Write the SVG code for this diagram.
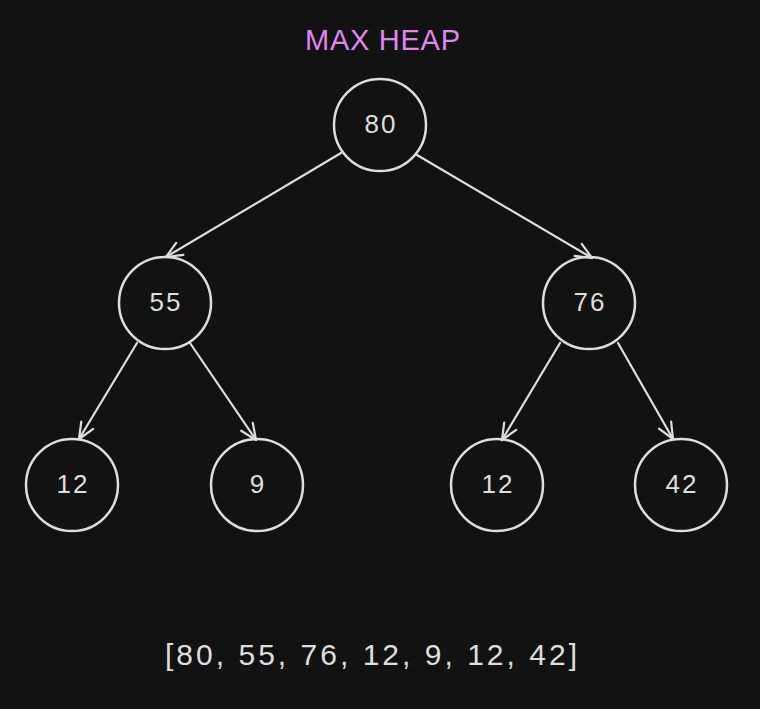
<svg xmlns="http://www.w3.org/2000/svg" width="760" height="709" viewBox="0 0 760 709">
<defs>
<marker id="ah" viewBox="0 0 20 20" refX="18" refY="10" markerWidth="20" markerHeight="20" markerUnits="userSpaceOnUse" orient="auto">
<polyline points="2,3 18,10 2,17" fill="none" stroke="#dedede" stroke-width="2.2" stroke-linecap="round" stroke-linejoin="round"/>
</marker>
<style>
.n circle{fill:none;stroke:#dedede;stroke-width:2.5}
.n text{fill:#dedede;font-family:"Liberation Sans",Arial,sans-serif;font-size:26px;letter-spacing:2px;text-anchor:middle;dominant-baseline:central}
.c line{stroke:#dedede;stroke-width:2.2;stroke-linecap:round;marker-end:url(#ah)}
.t{font-family:"Liberation Sans",Arial,sans-serif}
</style>
</defs>
<rect width="760" height="709" fill="#121212"/>
<text class="t" x="305" y="50" font-size="29" fill="#df86ee" textLength="155" lengthAdjust="spacing">MAX HEAP</text>
<g class="c" id="connectors">
<line x1="341" y1="153" x2="166" y2="257"/>
<line x1="417" y1="155" x2="592" y2="258"/>
<line x1="137" y1="343" x2="79" y2="439"/>
<line x1="190" y1="343" x2="256" y2="440"/>
<line x1="560" y1="343" x2="502" y2="440"/>
<line x1="618" y1="343" x2="673" y2="439"/>
</g>
<g class="n" id="n80"><circle cx="380" cy="125" r="46"/><text x="381" y="124">80</text></g>
<g class="n" id="n55"><circle cx="165" cy="303" r="46"/><text x="166" y="302">55</text></g>
<g class="n" id="n76"><circle cx="589" cy="303" r="46"/><text x="590" y="302">76</text></g>
<g class="n" id="n12a"><circle cx="72" cy="485" r="46"/><text x="73" y="484">12</text></g>
<g class="n" id="n9"><circle cx="257" cy="485" r="46"/><text x="258" y="484">9</text></g>
<g class="n" id="n12b"><circle cx="497" cy="485" r="46"/><text x="498" y="484">12</text></g>
<g class="n" id="n42"><circle cx="681" cy="485" r="46"/><text x="682" y="484">42</text></g>
<text class="t" x="165" y="665" font-size="30" fill="#dedede" textLength="412" lengthAdjust="spacing">[80, 55, 76, 12, 9, 12, 42]</text>
</svg>
